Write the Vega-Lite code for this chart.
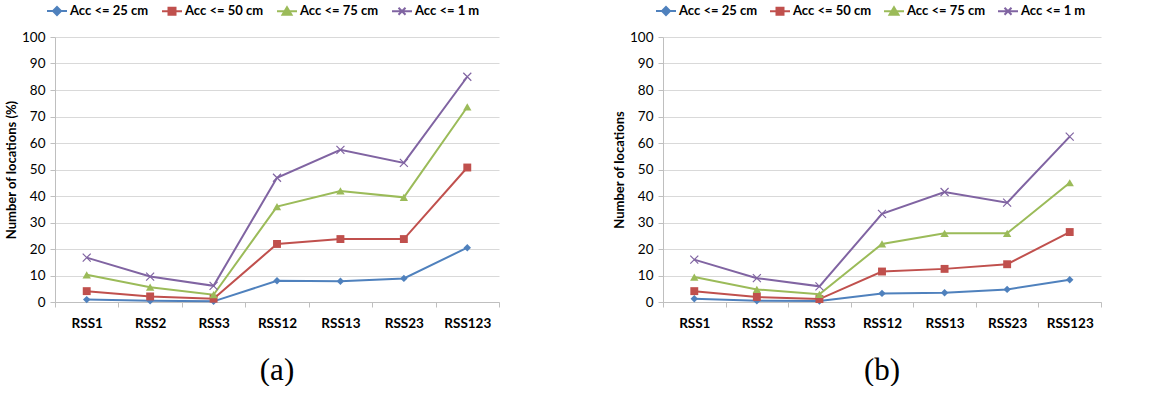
{
  "$schema": "https://vega.github.io/schema/vega-lite/v6.json",
  "background": "white",
  "padding": {"left": 5, "top": 0, "right": 0, "bottom": 0},
  "config": {"view": {"stroke": null}, "font": "Lato"},
  "datasets": {
    "a": [
      {"rss": "RSS1", "series": "Acc <= 25 cm", "value": 0.9},
      {"rss": "RSS2", "series": "Acc <= 25 cm", "value": 0.5},
      {"rss": "RSS3", "series": "Acc <= 25 cm", "value": 0.25},
      {"rss": "RSS12", "series": "Acc <= 25 cm", "value": 8.0},
      {"rss": "RSS13", "series": "Acc <= 25 cm", "value": 7.8},
      {"rss": "RSS23", "series": "Acc <= 25 cm", "value": 8.9},
      {"rss": "RSS123", "series": "Acc <= 25 cm", "value": 20.5},
      {"rss": "RSS1", "series": "Acc <= 50 cm", "value": 4.1},
      {"rss": "RSS2", "series": "Acc <= 50 cm", "value": 2.1},
      {"rss": "RSS3", "series": "Acc <= 50 cm", "value": 1.25},
      {"rss": "RSS12", "series": "Acc <= 50 cm", "value": 21.9},
      {"rss": "RSS13", "series": "Acc <= 50 cm", "value": 23.75},
      {"rss": "RSS23", "series": "Acc <= 50 cm", "value": 23.75},
      {"rss": "RSS123", "series": "Acc <= 50 cm", "value": 50.75},
      {"rss": "RSS1", "series": "Acc <= 75 cm", "value": 10.25},
      {"rss": "RSS2", "series": "Acc <= 75 cm", "value": 5.6},
      {"rss": "RSS3", "series": "Acc <= 75 cm", "value": 2.75},
      {"rss": "RSS12", "series": "Acc <= 75 cm", "value": 36.0},
      {"rss": "RSS13", "series": "Acc <= 75 cm", "value": 41.9},
      {"rss": "RSS23", "series": "Acc <= 75 cm", "value": 39.5},
      {"rss": "RSS123", "series": "Acc <= 75 cm", "value": 73.6},
      {"rss": "RSS1", "series": "Acc <= 1 m", "value": 16.75},
      {"rss": "RSS2", "series": "Acc <= 1 m", "value": 9.6},
      {"rss": "RSS3", "series": "Acc <= 1 m", "value": 6.1},
      {"rss": "RSS12", "series": "Acc <= 1 m", "value": 46.9},
      {"rss": "RSS13", "series": "Acc <= 1 m", "value": 57.4},
      {"rss": "RSS23", "series": "Acc <= 1 m", "value": 52.5},
      {"rss": "RSS123", "series": "Acc <= 1 m", "value": 85.0}
    ],
    "b": [
      {"rss": "RSS1", "series": "Acc <= 25 cm", "value": 1.25},
      {"rss": "RSS2", "series": "Acc <= 25 cm", "value": 0.5},
      {"rss": "RSS3", "series": "Acc <= 25 cm", "value": 0.4},
      {"rss": "RSS12", "series": "Acc <= 25 cm", "value": 3.25},
      {"rss": "RSS13", "series": "Acc <= 25 cm", "value": 3.5},
      {"rss": "RSS23", "series": "Acc <= 25 cm", "value": 4.75},
      {"rss": "RSS123", "series": "Acc <= 25 cm", "value": 8.4},
      {"rss": "RSS1", "series": "Acc <= 50 cm", "value": 4.1},
      {"rss": "RSS2", "series": "Acc <= 50 cm", "value": 1.9},
      {"rss": "RSS3", "series": "Acc <= 50 cm", "value": 1.1},
      {"rss": "RSS12", "series": "Acc <= 50 cm", "value": 11.5},
      {"rss": "RSS13", "series": "Acc <= 50 cm", "value": 12.5},
      {"rss": "RSS23", "series": "Acc <= 50 cm", "value": 14.25},
      {"rss": "RSS123", "series": "Acc <= 50 cm", "value": 26.4},
      {"rss": "RSS1", "series": "Acc <= 75 cm", "value": 9.4},
      {"rss": "RSS2", "series": "Acc <= 75 cm", "value": 4.75},
      {"rss": "RSS3", "series": "Acc <= 75 cm", "value": 2.9},
      {"rss": "RSS12", "series": "Acc <= 75 cm", "value": 21.9},
      {"rss": "RSS13", "series": "Acc <= 75 cm", "value": 25.9},
      {"rss": "RSS23", "series": "Acc <= 75 cm", "value": 25.9},
      {"rss": "RSS123", "series": "Acc <= 75 cm", "value": 45.0},
      {"rss": "RSS1", "series": "Acc <= 1 m", "value": 16.0},
      {"rss": "RSS2", "series": "Acc <= 1 m", "value": 9.0},
      {"rss": "RSS3", "series": "Acc <= 1 m", "value": 5.9},
      {"rss": "RSS12", "series": "Acc <= 1 m", "value": 33.25},
      {"rss": "RSS13", "series": "Acc <= 1 m", "value": 41.5},
      {"rss": "RSS23", "series": "Acc <= 1 m", "value": 37.5},
      {"rss": "RSS123", "series": "Acc <= 1 m", "value": 62.4}
    ]
  },
  "spacing": 113,
  "resolve": {"scale": {"color": "independent", "shape": "independent", "size": "independent"}, "legend": {"color": "independent"}},
  "hconcat": [
    {
      "width": 444,
      "height": 265,
      "title": {"text": "(a)", "orient": "bottom", "font": "Liberation Serif", "fontSize": 31, "fontWeight": "normal", "color": "#000000", "offset": 26},
      "data": {"name": "a"},
      "encoding": {
        "x": {"field": "rss", "type": "nominal", "sort": ["RSS1", "RSS2", "RSS3", "RSS12", "RSS13", "RSS23", "RSS123"], "bandPosition": 0.5,
          "scale": {"type": "band", "paddingInner": 0, "paddingOuter": 0},
          "axis": {"title": null, "labelAngle": 0, "tickBand": "extent", "domainColor": "#BFBFBF", "tickColor": "#BFBFBF", "tickSize": 5, "labelFont": "Lato", "labelFontWeight": "bold", "labelFontSize": 13.5, "labelColor": "#000000", "labelPadding": 9, "grid": false}},
        "y": {"field": "value", "type": "quantitative", "scale": {"domain": [0, 100], "nice": false},
          "axis": {"values": [0, 10, 20, 30, 40, 50, 60, 70, 80, 90, 100], "grid": true, "gridColor": "#D9D9D9", "domainColor": "#BFBFBF", "tickColor": "#BFBFBF", "tickSize": 5, "labelFont": "Lato", "labelFontSize": 13.5, "labelColor": "#000000", "labelPadding": 5, "title": "Number of locations (%)", "titleFont": "Lato", "titleFontSize": 13, "titleFontWeight": "bold", "titleColor": "#000000", "titlePadding": 3}},
        "color": {"field": "series", "type": "nominal",
          "scale": {"domain": ["Acc <= 25 cm", "Acc <= 50 cm", "Acc <= 75 cm", "Acc <= 1 m"], "range": ["#4F81BD", "#C0504D", "#9BBB59", "#8064A2"]},
          "legend": {"orient": "none", "legendX": -9, "legendY": -37, "direction": "horizontal", "title": null, "labelFont": "Lato", "labelFontWeight": "bold", "labelFontSize": 13, "labelColor": "#000000", "labelOffset": 2, "columnPadding": 9, "symbolSize": 400, "padding": 0,
            "encode": {"symbols": {"update": {
              "shape": {"signal": "datum.value === 'Acc <= 25 cm' ? 'M-1,0H1M0,-0.4L0.4,0L0,0.4L-0.4,0Z' : datum.value === 'Acc <= 50 cm' ? 'M-1,0H1M-0.35,-0.35H0.35V0.35H-0.35Z' : datum.value === 'Acc <= 75 cm' ? 'M-1,0H1M0,-0.4L0.45,0.35H-0.45Z' : 'M-1,0H1M-0.35,-0.35L0.35,0.35M-0.35,0.35L0.35,-0.35'"},
              "fill": {"signal": "datum.value === 'Acc <= 25 cm' ? '#4F81BD' : datum.value === 'Acc <= 50 cm' ? '#C0504D' : datum.value === 'Acc <= 75 cm' ? '#9BBB59' : 'transparent'"},
              "stroke": {"signal": "datum.value === 'Acc <= 25 cm' ? '#4F81BD' : datum.value === 'Acc <= 50 cm' ? '#C0504D' : datum.value === 'Acc <= 75 cm' ? '#9BBB59' : '#8064A2'"},
              "strokeWidth": {"value": 2},
              "opacity": {"value": 1},
              "size": {"value": 400}
            }}}}}
      },
      "layer": [
        {"mark": {"type": "line", "strokeWidth": 2}},
        {"transform": [{"filter": "datum.series !== 'Acc <= 1 m'"}],
          "mark": {"type": "point", "filled": true, "opacity": 1},
          "encoding": {
            "shape": {"field": "series", "type": "nominal", "scale": {"domain": ["Acc <= 25 cm", "Acc <= 50 cm", "Acc <= 75 cm"], "range": ["diamond", "square", "triangle-up"]}, "legend": null},
            "size": {"field": "series", "type": "nominal", "scale": {"domain": ["Acc <= 25 cm", "Acc <= 50 cm", "Acc <= 75 cm"], "range": [55, 70, 65]}, "legend": null}
          }},
        {"transform": [{"filter": "datum.series === 'Acc <= 1 m'"}],
          "mark": {"type": "point", "filled": false, "shape": "M-1,-1L1,1M-1,1L1,-1", "size": 64, "strokeWidth": 1.2, "opacity": 1}}
      ]
    },
    {
      "width": 438,
      "height": 265,
      "title": {"text": "(b)", "orient": "bottom", "font": "Liberation Serif", "fontSize": 31, "fontWeight": "normal", "color": "#000000", "offset": 26},
      "data": {"name": "b"},
      "encoding": {
        "x": {"field": "rss", "type": "nominal", "sort": ["RSS1", "RSS2", "RSS3", "RSS12", "RSS13", "RSS23", "RSS123"], "bandPosition": 0.5,
          "scale": {"type": "band", "paddingInner": 0, "paddingOuter": 0},
          "axis": {"title": null, "labelAngle": 0, "tickBand": "extent", "domainColor": "#BFBFBF", "tickColor": "#BFBFBF", "tickSize": 5, "labelFont": "Lato", "labelFontWeight": "bold", "labelFontSize": 13.5, "labelColor": "#000000", "labelPadding": 9, "grid": false}},
        "y": {"field": "value", "type": "quantitative", "scale": {"domain": [0, 100], "nice": false},
          "axis": {"values": [0, 10, 20, 30, 40, 50, 60, 70, 80, 90, 100], "grid": true, "gridColor": "#D9D9D9", "domainColor": "#BFBFBF", "tickColor": "#BFBFBF", "tickSize": 5, "labelFont": "Lato", "labelFontSize": 13.5, "labelColor": "#000000", "labelPadding": 5, "title": "Number of locations", "titleFont": "Lato", "titleFontSize": 13, "titleFontWeight": "bold", "titleColor": "#000000", "titlePadding": 3}},
        "color": {"field": "series", "type": "nominal",
          "scale": {"domain": ["Acc <= 25 cm", "Acc <= 50 cm", "Acc <= 75 cm", "Acc <= 1 m"], "range": ["#4F81BD", "#C0504D", "#9BBB59", "#8064A2"]},
          "legend": {"orient": "none", "legendX": -8, "legendY": -37, "direction": "horizontal", "title": null, "labelFont": "Lato", "labelFontWeight": "bold", "labelFontSize": 13, "labelColor": "#000000", "labelOffset": 2, "columnPadding": 8, "symbolSize": 400, "padding": 0,
            "encode": {"symbols": {"update": {
              "shape": {"signal": "datum.value === 'Acc <= 25 cm' ? 'M-1,0H1M0,-0.4L0.4,0L0,0.4L-0.4,0Z' : datum.value === 'Acc <= 50 cm' ? 'M-1,0H1M-0.35,-0.35H0.35V0.35H-0.35Z' : datum.value === 'Acc <= 75 cm' ? 'M-1,0H1M0,-0.4L0.45,0.35H-0.45Z' : 'M-1,0H1M-0.35,-0.35L0.35,0.35M-0.35,0.35L0.35,-0.35'"},
              "fill": {"signal": "datum.value === 'Acc <= 25 cm' ? '#4F81BD' : datum.value === 'Acc <= 50 cm' ? '#C0504D' : datum.value === 'Acc <= 75 cm' ? '#9BBB59' : 'transparent'"},
              "stroke": {"signal": "datum.value === 'Acc <= 25 cm' ? '#4F81BD' : datum.value === 'Acc <= 50 cm' ? '#C0504D' : datum.value === 'Acc <= 75 cm' ? '#9BBB59' : '#8064A2'"},
              "strokeWidth": {"value": 2},
              "opacity": {"value": 1},
              "size": {"value": 400}
            }}}}}
      },
      "layer": [
        {"mark": {"type": "line", "strokeWidth": 2}},
        {"transform": [{"filter": "datum.series !== 'Acc <= 1 m'"}],
          "mark": {"type": "point", "filled": true, "opacity": 1},
          "encoding": {
            "shape": {"field": "series", "type": "nominal", "scale": {"domain": ["Acc <= 25 cm", "Acc <= 50 cm", "Acc <= 75 cm"], "range": ["diamond", "square", "triangle-up"]}, "legend": null},
            "size": {"field": "series", "type": "nominal", "scale": {"domain": ["Acc <= 25 cm", "Acc <= 50 cm", "Acc <= 75 cm"], "range": [55, 70, 65]}, "legend": null}
          }},
        {"transform": [{"filter": "datum.series === 'Acc <= 1 m'"}],
          "mark": {"type": "point", "filled": false, "shape": "M-1,-1L1,1M-1,1L1,-1", "size": 64, "strokeWidth": 1.2, "opacity": 1}}
      ]
    }
  ]
}
